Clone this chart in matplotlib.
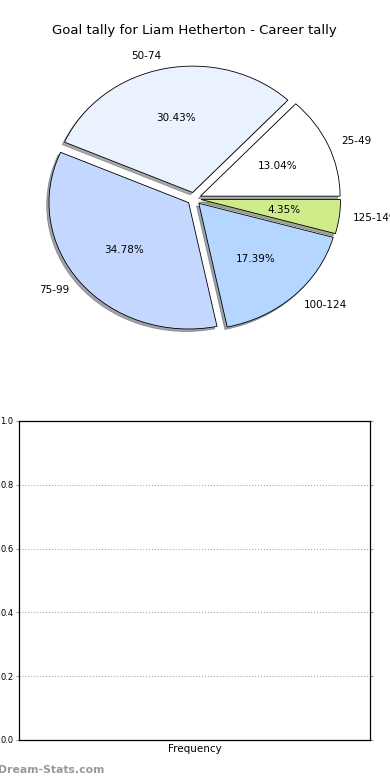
import matplotlib
matplotlib.use("Agg")
import matplotlib.pyplot as plt

categories = ["25-49", "50-74", "75-99", "100-124", "125-149"]
counts = [3, 7, 8, 4, 1]
colors = ["#ffffff", "#eaf2ff", "#c4d8ff", "#b4d6ff", "#cfec8a"]
explode = [0.05, 0.05, 0.05, 0.05, 0.05]
title = "Goal tally for Liam Hetherton - Career tally"
yticks = [0.0, 0.2, 0.4, 0.6, 0.8, 1.0]
xtick_labels = ["Frequency"]

fig = plt.figure(figsize=(3.9, 7.8), dpi=100)

ax1 = fig.add_axes([0.05, 0.5428, 0.895, 0.405])
wedges, texts, autotexts = ax1.pie(
    counts, labels=categories, colors=colors, explode=explode,
    autopct="%.2f%%", shadow={"ox": -0.012, "oy": -0.014, "shade": 0.65},
    startangle=0, counterclock=True,
    labeldistance=1.1, pctdistance=0.6,
    wedgeprops=dict(edgecolor="black", linewidth=0.6),
    textprops=dict(fontsize=7.5))
ax1.set_aspect("auto")
ax1.set_xlim(-1.25, 1.25)
ax1.set_ylim(-1.25, 1.25)
ax1.set_title(title, fontsize=9.5, pad=4.5)

ax2 = fig.add_axes([0.0487, 0.0513, 0.9, 0.409])
ax2.set_ylim(0, 1)
ax2.set_xlim(-0.5, 0.5)
ax2.set_yticks(yticks)
ax2.set_yticklabels([f"{v:.1f}" for v in yticks], fontsize=6)
ax2.set_xticks([0])
ax2.set_xticklabels(xtick_labels, fontsize=7.5)
ax2.yaxis.grid(True, linestyle=":", color="#aaaaaa", linewidth=0.8)
ax2.tick_params(axis="y", length=2, color="#999999", right=True, pad=2)
ax2.tick_params(axis="x", length=0, pad=3)
for s in ax2.spines.values():
    s.set_linewidth(0.9)

fig.text(-0.006, 0.0125, "Dream-Stats.com", fontsize=7.8, color="#999999",
         fontweight="bold", ha="left", va="center")

fig.savefig("out.png", dpi=100)
